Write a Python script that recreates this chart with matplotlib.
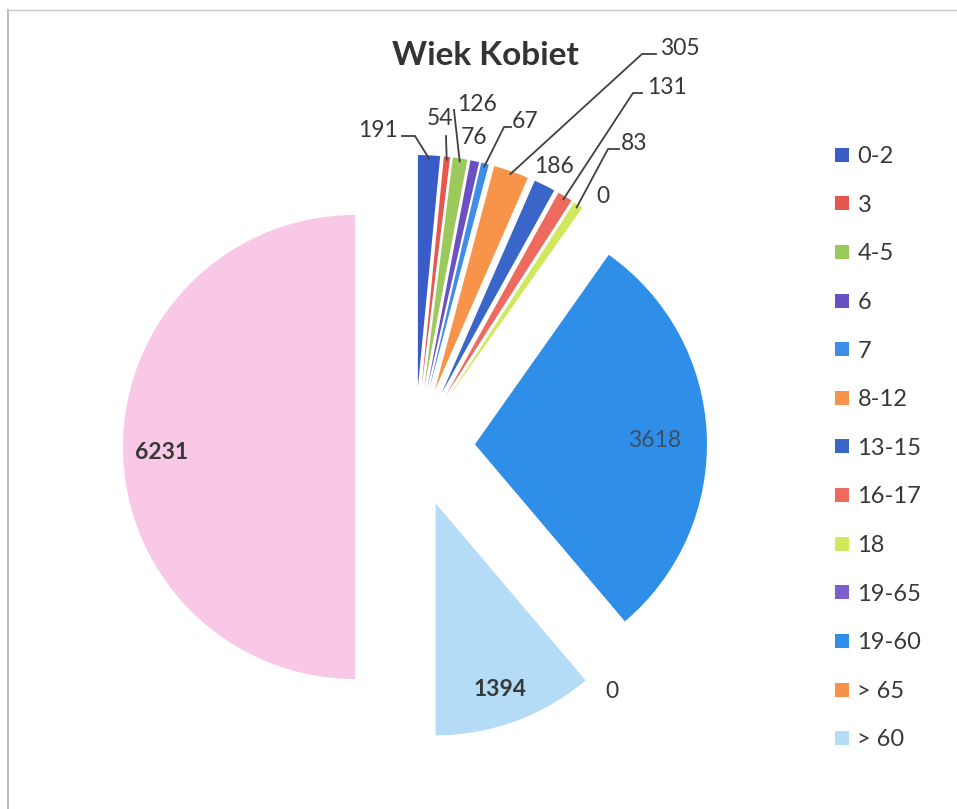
import numpy as np
import matplotlib
matplotlib.use('Agg')
import matplotlib.pyplot as plt
from matplotlib.lines import Line2D

W, H = 957, 809

title = 'Wiek Kobiet'
categories = ['0-2', '3', '4-5', '6', '7', '8-12', '13-15', '16-17', '18',
              '19-65', '19-60', '> 65', '> 60', 'Razem']
values = [191, 54, 126, 76, 67, 305, 186, 131, 83, 0, 3618, 0, 1394, 6231]
colors = ['#3a5cc6', '#e8574b', '#9bc95c', '#6a51c2', '#3f8de6', '#f7944a',
          '#3b66c9', '#ee6a5f', '#d2e85c', '#7a5fcb', '#2f8fe8', '#f7904a',
          '#b5dcf6', '#f9c8e7']
n_legend = 13

# label layout (pixel coords, y down): text pos, ha, elbow of leader or None
label_pos = {
    0: ((398, 130), 'right', (415, 136)),
    1: ((440, 118), 'center', (446, 136)),
    2: ((477, 104), 'center', (454, 110)),
    3: ((474, 137), 'center', None),
    4: ((525, 121), 'center', (504, 127)),
    5: ((680, 48), 'center', (642, 54)),
    6: ((554, 166), 'center', None),
    7: ((667, 87), 'center', (633, 93)),
    8: ((634, 143), 'center', (608, 149)),
    9: ((603, 196), 'center', None),
    10: ((655, 440), 'center', None),
    11: ((612, 692), 'center', None),
    12: ((500, 689), 'center', None),
    13: ((162, 452), 'center', None),
}
# horizontal stub start of leader (x, pixels), for labels with a stub
stub_x = {0: 402, 4: 511, 5: 656, 7: 642, 8: 619}


def P(x, y):
    return x, H - y


plt.rcParams['font.family'] = ['Lato', 'DejaVu Sans']
fig = plt.figure(figsize=(W / 100, H / 100), dpi=100)
ax = fig.add_axes([0, 0, 1, 1])

cx, cy = P(415, 447)
radius = 232
wedges, _ = ax.pie(values, colors=colors, startangle=90, counterclock=False,
                   radius=radius, center=(cx, cy),
                   explode=[60] * len(values),
                   wedgeprops=dict(linewidth=0))
ax.set_xlim(0, W)
ax.set_ylim(0, H)
ax.set_aspect('auto')
ax.axis('off')

txtcol = '#383838'
for i, w in enumerate(wedges):
    (tx, ty), ha, elbow = label_pos[i]
    fw = 'bold' if i in (12, 13) else 'normal'
    col = '#3d4f66' if i == 10 else txtcol
    ax.text(*P(tx, ty), str(values[i]), ha=ha, va='center', fontsize=16.5,
            color=col, fontweight=fw)
    if elbow is not None:
        th = np.deg2rad(0.5 * (w.theta1 + w.theta2))
        wx, wy = w.center
        tipx = wx + (w.r - 3) * np.cos(th)
        tipy = wy + (w.r - 3) * np.sin(th)
        ex, ey = P(*elbow)
        xs, ys = [ex, tipx], [ey, tipy]
        if i in stub_x:
            xs.insert(0, stub_x[i])
            ys.insert(0, ey)
        ax.plot(xs, ys, color='#404040', lw=1.3)

ax.text(*P(485, 55), title, ha='center', va='center', fontsize=24,
        fontweight='bold', color='#333333')

handles = [Line2D([], [], marker='s', linestyle='none', markersize=10,
                  markerfacecolor=colors[i], markeredgewidth=0)
           for i in range(n_legend)]
leg = ax.legend(handles, categories[:n_legend], loc='upper left',
                bbox_to_anchor=(835 / W, 1 - 146 / H), frameon=False,
                fontsize=17, labelspacing=1.17, handlelength=0.6,
                handletextpad=0.35, borderpad=0, borderaxespad=0)
for t in leg.get_texts():
    t.set_color(txtcol)

# thin scanned frame
ax.plot([8, 8], [0, H - 10], color='#b0b0b0', lw=1.2)
ax.plot([8, W], [H - 10, H - 10], color='#c8c8c8', lw=1.0)

fig.savefig('out.png', dpi=100)
